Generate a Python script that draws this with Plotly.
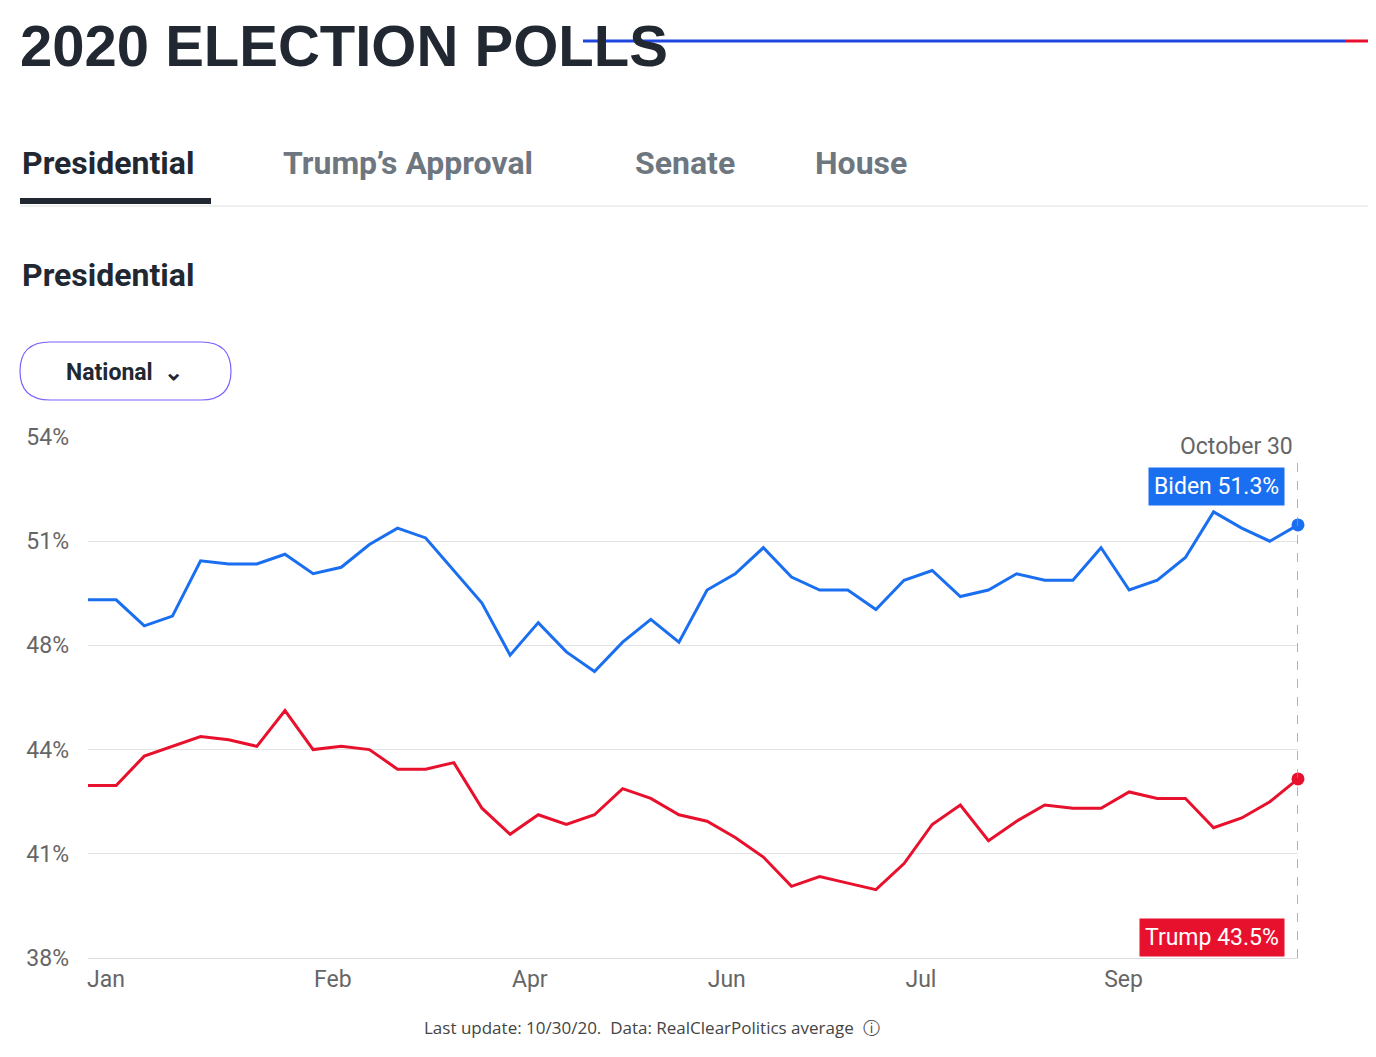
import plotly.graph_objects as go

biden = [49.0, 49.0, 48.2, 48.5, 50.2, 50.1, 50.1, 50.4, 49.8, 50.0, 50.7, 51.2, 50.9, 49.9,
         48.9, 47.3, 48.3, 47.4, 46.8, 47.7, 48.4, 47.7, 49.3, 49.8, 50.6, 49.7, 49.3, 49.3,
         48.7, 49.6, 49.9, 49.1, 49.3, 49.8, 49.6, 49.6, 50.6, 49.3, 49.6, 50.3, 51.7, 51.2,
         50.8, 51.3]
trump = [43.3, 43.3, 44.2, 44.5, 44.8, 44.7, 44.5, 45.6, 44.4, 44.5, 44.4, 43.8, 43.8, 44.0,
         42.6, 41.8, 42.4, 42.1, 42.4, 43.2, 42.9, 42.4, 42.2, 41.7, 41.1, 40.2, 40.5, 40.3,
         40.1, 40.9, 42.1, 42.7, 41.6, 42.2, 42.7, 42.6, 42.6, 43.1, 42.9, 42.9, 42.0, 42.3,
         42.8, 43.5]
weeks = list(range(len(biden)))
month_ticks = [0.64, 8.7, 15.7, 22.7, 29.6, 36.8]
month_labels = ["Jan", "Feb", "Apr", "Jun", "Jul", "Sep"]
y_ticks = [54, 50.8, 47.6, 44.4, 41.2, 38]

BLUE = "#1a6ff0"
RED = "#e8112d"
OFF = 8  # page margin of the browser
W, H = 1376 - OFF, 1057 - OFF
L, R, T, B = 88 - OFF, 1298 - OFF, 437 - OFF, 958 - OFF


def px(x):
    return (x - OFF - L) / (R - L)


def py(y):
    return (B - (y - OFF)) / (B - T)


fig = go.Figure()
fig.add_trace(go.Scatter(x=weeks, y=biden, mode="lines", line=dict(color=BLUE, width=3)))
fig.add_trace(go.Scatter(x=weeks, y=trump, mode="lines", line=dict(color=RED, width=3)))
fig.add_trace(go.Scatter(x=[weeks[-1], weeks[-1]], y=[biden[-1], trump[-1]], mode="markers",
                         marker=dict(color=[BLUE, RED], size=13), cliponaxis=False))

fig.add_shape(type="line", xref="x", yref="paper", x0=weeks[-1], x1=weeks[-1], y0=0, y1=py(462),
              line=dict(color="#999", width=1.5, dash="dash"))

shapes = [
    dict(x0=px(583), x1=px(1345), y0=py(41), y1=py(41), color="#2046e0", w=3),
    dict(x0=px(1345), x1=px(1376), y0=py(41), y1=py(41), color=RED, w=3),
    dict(x0=px(20), x1=px(1376), y0=py(206), y1=py(206), color="#e0e0e0", w=1),
    dict(x0=px(20), x1=px(211), y0=py(201), y1=py(201), color="#222831", w=6),
]
for s in shapes:
    fig.add_shape(type="line", xref="paper", yref="paper", x0=s["x0"], x1=s["x1"], y0=s["y0"], y1=s["y1"],
                  line=dict(color=s["color"], width=s["w"]))
fig.add_shape(type="path", xref="paper", yref="paper",
              path=("M {a},{b} L {c},{b} Q {d},{b} {d},{m} Q {d},{e} {c},{e} L {a},{e} Q {f},{e} {f},{m} Q {f},{b} {a},{b} Z"
                    .format(a=px(50), c=px(201), d=px(231), f=px(20), b=py(342), e=py(400), m=py(371))),
              line=dict(color="#7b61ff", width=1.2))

texts = [
    ("2020 ELECTION POLLS", 18, 45, 58, "#222831", "Liberation Sans Narrow, sans-serif", True, "left"),
    ("Presidential", 20, 163, 32, "#222831", "Roboto, sans-serif", True, "left"),
    ("Trump’s Approval", 281, 163, 32, "#6e7780", "Roboto, sans-serif", True, "left"),
    ("Senate", 633, 163, 32, "#6e7780", "Roboto, sans-serif", True, "left"),
    ("House", 813, 163, 32, "#6e7780", "Roboto, sans-serif", True, "left"),
    ("Presidential", 20, 275, 32, "#222831", "Roboto, sans-serif", True, "left"),
    ("National  ⌄", 64, 372, 23, "#222831", "Roboto, sans-serif", True, "left"),
    ("October 30", 1295, 446, 23, "#666", "Roboto, sans-serif", False, "right"),
    ("Last update: 10/30/20.  Data: RealClearPolitics average  ⓘ", 882, 1027, 17, "#444", "Open Sans, sans-serif", False, "right"),
]
for t, x, y, size, col, fam, bold, anc in texts:
    fig.add_annotation(text=f"<b>{t}</b>" if bold else t, xref="paper", yref="paper", x=px(x), y=py(y),
                       xanchor=anc, yanchor="middle", showarrow=False,
                       font=dict(size=size, color=col, family=fam))

for t, y, col in [(f"Biden {biden[-1]}%", 486, BLUE), (f"Trump {trump[-1]}%", 937, RED)]:
    fig.add_annotation(text=t, xref="paper", yref="paper", x=px(1285), y=py(y), xanchor="right",
                       yanchor="middle", showarrow=False, bgcolor=col, borderpad=5,
                       font=dict(size=23, color="white", family="Roboto, sans-serif"))

fig.update_layout(
    width=W, height=H, showlegend=False, plot_bgcolor="white", paper_bgcolor="white",
    margin=dict(l=L, r=W - R, t=T, b=H - B),
    xaxis=dict(range=[0, weeks[-1]], tickvals=month_ticks, ticktext=month_labels, showgrid=False,
               zeroline=False, showline=True, linecolor="#ddd", ticks="",
               tickfont=dict(size=23, color="#666", family="Roboto, sans-serif")),
    yaxis=dict(range=[38, 54], tickvals=y_ticks, ticktext=[f"{round(v)}%" for v in y_ticks],
               gridcolor="#e3e3e3", zeroline=False, ticklabelstandoff=18,
               tickfont=dict(size=23, color="#666", family="Roboto, sans-serif")),
)
fig.write_html("out.html")
